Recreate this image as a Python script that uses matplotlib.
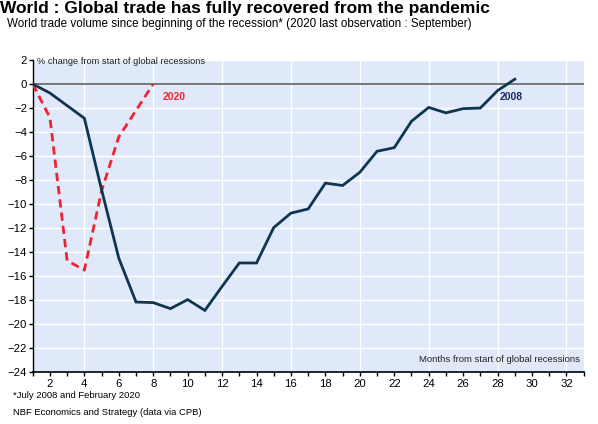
import numpy as np
import matplotlib
matplotlib.use('Agg')
import matplotlib.pyplot as plt
from matplotlib.ticker import MultipleLocator

plt.rcParams['font.family'] = ['Liberation Sans', 'DejaVu Sans']

# months from start of recession
months_2008 = list(range(1, 30))
trade_2008 = [0.0, -0.75, -1.8, -2.85, -8.8, -14.5, -18.15, -18.2, -18.7, -17.95,
              -18.85, -16.85, -14.9, -14.9, -11.95, -10.75, -10.4, -8.25, -8.45,
              -7.35, -5.6, -5.3, -3.1, -1.95, -2.4, -2.05, -2.0, -0.55, 0.4]

months_2020 = list(range(1, 9))
trade_2020 = [0.0, -2.8, -14.7, -15.5, -8.9, -4.4, -2.2, 0.0]

xticks = list(range(2, 33, 2))
yticks = list(range(-24, 3, 2))

NAVY = '#0f3551'
RED = '#ee2530'
BG = '#dfe9fa'

fig = plt.figure(figsize=(5.98, 4.24), dpi=100)
ax = fig.add_axes([0.0547, 0.122, 0.9213, 0.7365])
ax.set_facecolor(BG)

ax.set_xlim(1, 33)
ax.set_ylim(-24, 2)

# grid: vertical every 4 months, horizontal every 2
for gx in range(4, 33, 4):
    ax.axvline(gx, color='white', lw=1.0, zorder=1)
for gy in yticks:
    ax.axhline(gy, color='white', lw=1.0, zorder=1)
ax.axhline(0, color='#555555', lw=1.1, zorder=2)

ax.plot(months_2008, trade_2008, color=NAVY, lw=2.0, zorder=4,
        solid_joinstyle='miter')
ax.plot(months_2020, trade_2020, color=RED, lw=2.0, ls=(0, (3, 1.8)), zorder=3)

ax.text(9.2, -1.05, '2020', color=RED, fontsize=7.5, fontweight='bold',
        ha='center', va='center')
ax.text(28.8, -1.05, '2008', color='#1b2a66', fontsize=7.5, fontweight='bold',
        ha='center', va='center')

ax.text(1.25, 1.85, '% change from start of global recessions', fontsize=6.7,
        color='#222222', ha='left', va='center')
ax.text(32.8, -22.9, 'Months from start of global recessions', fontsize=6.8,
        color='#222222', ha='right', va='center')

for s in ['top', 'right']:
    ax.spines[s].set_visible(False)
ax.spines['left'].set_color('black')
ax.spines['bottom'].set_color('black')
ax.spines['left'].set_linewidth(1.0)
ax.spines['bottom'].set_linewidth(1.2)

ax.set_xticks(xticks)
ax.xaxis.set_minor_locator(MultipleLocator(1))
ax.set_yticks(yticks)
ax.tick_params(axis='x', which='both', direction='out', length=3, width=1,
               labelsize=8.2, pad=2)
ax.tick_params(axis='y', which='major', direction='out', length=3, width=1,
               labelsize=8.2, pad=1)

fig.text(0.0, 0.998, 'World : Global trade has fully recovered from the pandemic',
         fontsize=12.5, fontweight='bold', ha='left', va='top')
fig.text(0.012, 0.957,
         'World trade volume since beginning of the recession* (2020 last observation : September)',
         fontsize=8.4, ha='left', va='top')

fig.text(0.022, 0.068, '*July 2008 and February 2020', fontsize=6.8, ha='left', va='center')
fig.text(0.022, 0.028, 'NBF Economics and Strategy (data via CPB)', fontsize=6.8,
         ha='left', va='center')

fig.savefig('out.png', dpi=100)
